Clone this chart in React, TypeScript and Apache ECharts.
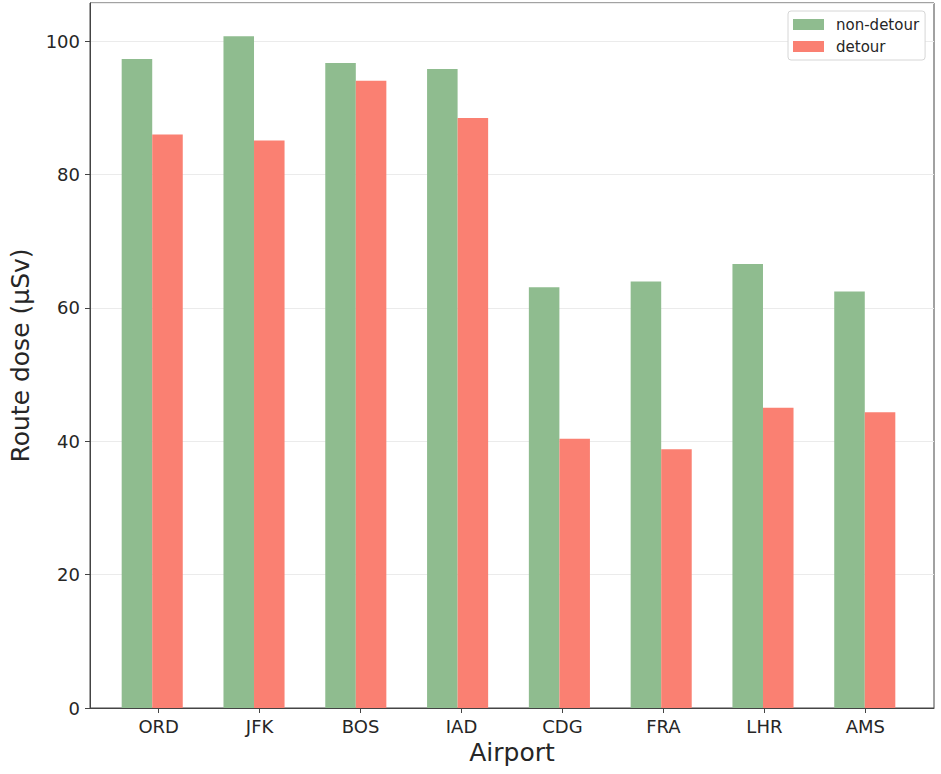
import React, { useEffect, useRef } from "react";
import * as echarts from "echarts";

const categories = ["ORD", "JFK", "BOS", "IAD", "CDG", "FRA", "LHR", "AMS"];
const nonDetour = [97.3, 100.7, 96.7, 95.8, 63.1, 63.95, 66.55, 62.45];
const detour = [86.0, 85.1, 94.05, 88.45, 40.35, 38.8, 45.0, 44.35];
const yTicks = [0, 20, 40, 60, 80, 100];

const FONT = "'DejaVu Sans', sans-serif";
const TXT = "#262626";

// layout of the frame (matplotlib axes) and the data range
const PLOT_LEFT = 83;
const PLOT_WIDTH = 851;
const X_MIN = -0.68;
const X_MAX = 7.68;
const Y_MAX = 105.7;

export default function App() {
  const ref = useRef<HTMLDivElement>(null);
  useEffect(() => {
    if (!ref.current) return;
    const chart = echarts.init(ref.current, undefined, { renderer: "svg" });
    const idx = categories.map((_, i) => i);
    const pxPerUnit = PLOT_WIDTH / (X_MAX - X_MIN);
    const bandLeft = PLOT_LEFT + (-0.5 - X_MIN) * pxPerUnit;
    const bandWidth = categories.length * pxPerUnit;
    const barW = 0.3 * pxPerUnit;
    chart.setOption({
      animation: false,
      backgroundColor: "#ffffff",
      textStyle: { fontFamily: FONT },
      grid: [
        {
          left: PLOT_LEFT,
          top: 3,
          width: PLOT_WIDTH,
          bottom: 66,
          show: true,
          borderColor: "#444",
          borderWidth: 1,
          backgroundColor: "transparent",
        },
        {
          left: bandLeft,
          top: 3,
          width: bandWidth,
          bottom: 66,
        },
      ],
      legend: {
        orient: "vertical",
        left: 788,
        top: 11,
        data: ["non-detour", "detour"],
        itemWidth: 31,
        itemHeight: 11,
        itemGap: 5,
        padding: [5, 6, 5, 5],
        borderColor: "#d6d6d6",
        borderWidth: 1,
        borderRadius: 3,
        backgroundColor: "#ffffff",
        icon: "rect",
        textStyle: {
          fontFamily: FONT,
          fontSize: 15,
          color: TXT,
          lineHeight: 17,
          padding: [0, 0, 0, 7],
        },
      },
      xAxis: [
        {
          type: "value",
          gridIndex: 0,
          min: X_MIN,
          max: X_MAX,
          name: "Airport",
          nameLocation: "middle",
          nameGap: 31,
          nameTextStyle: { fontFamily: FONT, fontSize: 25, color: TXT },
          axisLine: { show: true, onZero: false, lineStyle: { color: "#444", width: 1 } },
          axisTick: {
            show: true,
            customValues: idx,
            length: 5,
            lineStyle: { color: "#444" },
          },
          axisLabel: {
            customValues: idx,
            formatter: (v: number) => categories[Math.round(v)] ?? "",
            fontFamily: FONT,
            fontSize: 18,
            color: TXT,
            margin: 9,
          },
          splitLine: { show: false },
        },
        {
          type: "category",
          gridIndex: 1,
          data: categories,
          show: false,
        },
      ],
      yAxis: [
        {
          type: "value",
          gridIndex: 0,
          min: 0,
          max: Y_MAX,
          interval: 20,
          name: "Route dose (µSv)",
          nameLocation: "middle",
          nameGap: 57,
          nameTextStyle: { fontFamily: FONT, fontSize: 25, color: TXT },
          axisLine: { show: true, onZero: false, lineStyle: { color: "#444", width: 1 } },
          axisTick: { show: true, length: 5, lineStyle: { color: "#444" } },
          axisLabel: {
            showMaxLabel: false,
            formatter: (v: number) => (yTicks.includes(v) ? String(v) : ""),
            fontFamily: FONT,
            fontSize: 18,
            color: TXT,
            margin: 10,
          },
          splitLine: { show: true, lineStyle: { color: "#ebebeb", width: 1 } },
        },
        {
          type: "value",
          gridIndex: 1,
          min: 0,
          max: Y_MAX,
          show: false,
          splitLine: { show: false },
        },
      ],
      series: [
        {
          name: "non-detour",
          type: "bar",
          xAxisIndex: 1,
          yAxisIndex: 1,
          data: nonDetour,
          barWidth: barW,
          barGap: "0%",
          itemStyle: { color: "#8fbc8f" },
        },
        {
          name: "detour",
          type: "bar",
          xAxisIndex: 1,
          yAxisIndex: 1,
          data: detour,
          barWidth: barW,
          barGap: "0%",
          itemStyle: { color: "#fa8072" },
        },
      ],
    });
    return () => chart.dispose();
  }, []);
  return (
    <div
      ref={ref}
      style={{ position: "absolute", left: 0, top: 0, width: 941, height: 774 }}
    />
  );
}
